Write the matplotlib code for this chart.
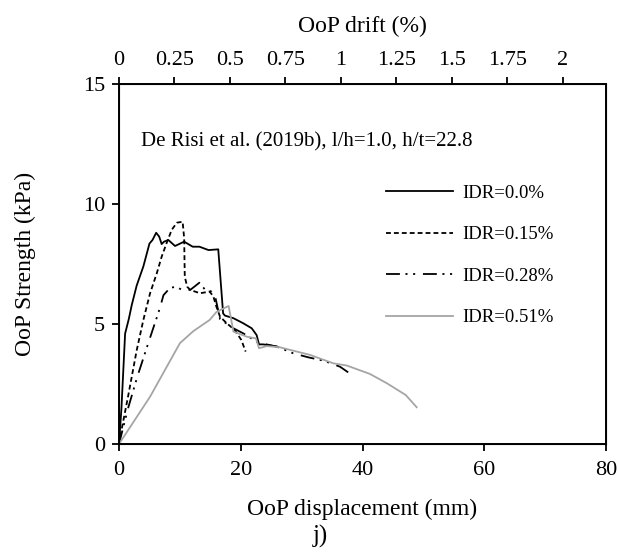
import matplotlib
matplotlib.use('Agg')
import matplotlib.pyplot as plt

plt.rcParams['font.family'] = 'Liberation Serif'
plt.rcParams['lines.scale_dashes'] = False

# OoP displacement (mm) and strength (kPa) for each in-plane drift level
disp_00 = [0, 0.4, 1.0, 1.6, 2.1, 2.9, 4.0, 5.0, 5.5, 6.1, 6.6, 7.0, 7.4, 8.1, 9.2, 10.7,
           12.1, 13.2, 14.7, 16.3, 17.1, 17.4, 18.8, 20.4, 21.8, 22.6, 23.0, 23.7, 25.9]
str_00 = [0, 1.5, 4.6, 5.2, 5.8, 6.6, 7.4, 8.35, 8.5, 8.8, 8.64, 8.33, 8.43, 8.5, 8.25, 8.43,
          8.22, 8.22, 8.08, 8.11, 5.44, 5.35, 5.24, 5.03, 4.82, 4.54, 4.15, 4.15, 4.06]

disp_15 = [0, 0.5, 1.5, 2.9, 4.0, 5.1, 6.2, 7.0, 7.8, 8.65, 9.5, 10.45, 10.7, 10.8, 11.2,
           11.7, 13.3, 14.9, 15.5, 16.0, 16.6, 17.7, 19.0, 20.1, 20.8]
str_15 = [0, 0.7, 2.0, 3.9, 5.17, 6.28, 7.11, 7.8, 8.36, 8.92, 9.22, 9.26, 8.57, 6.97, 6.55,
          6.42, 6.28, 6.35, 6.14, 5.72, 5.3, 5.03, 4.75, 4.33, 3.85]

disp_28 = [0, 1.5, 3.0, 4.8, 6.7, 7.3, 8.4, 9.5, 10.3, 11.7, 13.2, 14.1, 15.2, 15.8, 16.6,
           18.8, 20.4, 22.9, 25.9, 28.6, 31.1, 33.6, 36.3, 37.9]
str_28 = [0, 1.5, 2.8, 4.2, 5.65, 6.2, 6.51, 6.55, 6.42, 6.42, 6.72, 6.44, 6.35, 6.14, 5.2,
          4.82, 4.61, 4.22, 4.06, 3.78, 3.61, 3.47, 3.22, 2.94]

disp_51 = [0, 5.1, 10.0, 12.2, 14.9, 16.0, 18.0, 18.8, 21.0, 22.5, 23.0, 24.3, 26.4, 29.2,
           31.4, 35.2, 37.4, 41.2, 44.0, 47.1, 48.9]
str_51 = [0, 1.97, 4.2, 4.7, 5.17, 5.5, 5.75, 4.68, 4.47, 4.4, 3.99, 4.08, 4.03, 3.85,
          3.71, 3.36, 3.27, 2.92, 2.53, 2.04, 1.53]

labels = ['IDR=0.0%', 'IDR=0.15%', 'IDR=0.28%', 'IDR=0.51%']
drift_ticks = [0, 0.25, 0.5, 0.75, 1, 1.25, 1.5, 1.75, 2]

# 2 % drift corresponds to about 72.9 mm of displacement
drift_per_mm = 2 / 72.9

fig = plt.figure(figsize=(6.18, 5.54), dpi=100)
ax = fig.add_axes([0.1926, 0.1986, 0.788, 0.6498])

ax.plot(disp_00, str_00, color='black', lw=1.3, label=labels[0])
ax.plot(disp_15, str_15, color='black', lw=1.3, dashes=(3.5, 2.2), label=labels[1])
ax.plot(disp_28, str_28, color='black', lw=1.3,
        dashes=(10, 4, 1.5, 4, 1.5, 5.6), label=labels[2])
ax.plot(disp_51, str_51, color='#a5a5a5', lw=1.3, label=labels[3])

ax.set_xlim(0, 80)
ax.set_ylim(0, 15)
ax.set_xticks([0, 20, 40, 60, 80])
ax.set_yticks([0, 5, 10, 15])
ax.tick_params(direction='out', length=5, width=1.3, labelsize=16)
ax.tick_params(axis='x', pad=7)
ax.tick_params(axis='y', pad=5)
for s in ax.spines.values():
    s.set_linewidth(1.4)

ax.set_xlabel('OoP displacement (mm)', fontsize=17, labelpad=14)
ax.set_ylabel('OoP Strength (kPa)', fontsize=17, labelpad=34)

ax.text(3.6, 12.6, 'De Risi et al. (2019b), l/h=1.0, h/t=22.8', fontsize=15, va='center')

leg = ax.legend(loc='upper left', bbox_to_anchor=(0.548, 0.72), frameon=False,
                fontsize=13.5, handlelength=3.6, handletextpad=0.5, labelspacing=1.3,
                borderpad=0, borderaxespad=0)

# drift axis along the top
ax2 = ax.twiny()
ax2.set_xlim(0, 80 * drift_per_mm)
ax2.set_xticks(drift_ticks)
ax2.set_xticklabels([str(t) for t in drift_ticks])
ax2.tick_params(direction='out', length=5, width=1.3, labelsize=16, pad=5)
ax2.set_xlabel('OoP drift (%)', fontsize=17, labelpad=14)

fig.text(0.519, 0.031, 'j)', fontsize=18, ha='center', va='center')

fig.savefig('out.png', dpi=100)
